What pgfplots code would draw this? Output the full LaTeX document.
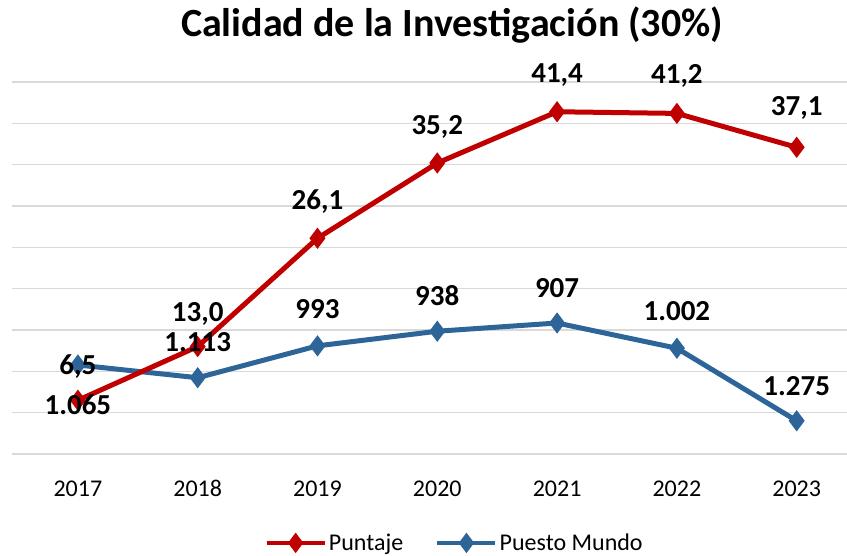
\documentclass[border=0pt]{standalone}
\usepackage{pgfplots}
\usepackage{pgfplotstable}
\usepackage{fontspec}
\setmainfont{Carlito}
\pgfplotsset{compat=1.18}
\definecolor{rojo}{HTML}{C00000}
\definecolor{azul}{HTML}{2E6599}
\definecolor{gridgray}{HTML}{D9D9D9}

\pgfplotstableread{
x y lbl off
0 6.5 {6,5} 34
1 13.0 {13,0} 33
2 26.1 {26,1} 37
3 35.2 {35,2} 36
4 41.4 {41,4} 37
5 41.2 {41,2} 37
6 37.1 {37,1} 39
}\puntaje

\pgfplotstableread{
x y lbl off
0 1065 {1.065} -40
1 1113 {1.113} 36
2 993 {993} 37
3 938 {938} 36
4 907 {907} 35
5 1002 {1.002} 37
6 1275 {1.275} 35
}\puesto

\begin{document}
\begin{tikzpicture}
\useasboundingbox (0,0) rectangle (847pt,556pt);
\pgfplotsset{
  common/.style={
    at={(12pt,102pt)}, anchor=south west,
    scale only axis, width=835pt, height=372pt,
    xmin=-0.55, xmax=6.42,
    axis line style={draw=none},
    tick style={draw=none},
    major tick length=0pt,
    clip=false,
  },
  prim/.style={common, ymin=0, ymax=45},
  sec/.style={common, ymin=0, ymax=1400, y dir=reverse},
  bare/.style={xtick=\empty, ytick=\empty},
  lbls/.style={
    nodes near coords,
    point meta=explicit symbolic,
    visualization depends on={\thisrow{off} \as \lblshift},
    nodes near coords style={anchor=center, yshift=\lblshift pt,
      font=\fontsize{29}{32}\selectfont\bfseries, text=black},
  },
  redline/.style={rojo, line width=5pt, mark=diamond*, mark size=6.5pt, mark options={solid}},
  blueline/.style={azul, line width=5pt, mark=diamond*, mark size=6.5pt, mark options={solid}},
}
% background: grid, ticks, title, legend
\begin{axis}[prim,
  ytick={0,5,...,45}, yticklabels={},
  ymajorgrids, grid style={draw=gridgray, line width=1.5pt},
  xtick={0,...,6}, xticklabels={2017,2018,2019,2020,2021,2022,2023},
  xticklabel style={anchor=base, yshift=-43pt, font=\fontsize{24}{28}\selectfont},
  title={\fontsize{40}{44}\selectfont\bfseries Calidad de la Investigación (30\%)},
  every axis title shift=0pt,
  title style={at={(0.527,1.121)}, anchor=base},
  legend columns=2,
  legend style={draw=none, fill=none, at={(0.53,-0.239)}, anchor=center,
    font=\fontsize{24}{28}\selectfont,
    /tikz/every even column/.append style={column sep=30pt}},
  legend image code/.code={\draw[line width=4.5pt, mark repeat=2,mark phase=2] plot coordinates {(0pt,0pt)(29pt,0pt)(58pt,0pt)};},
]
\addlegendimage{redline}
\addlegendentry{Puntaje}
\addlegendimage{blueline}
\addlegendentry{Puesto Mundo}
\end{axis}
% blue line
\begin{axis}[sec, bare]
\addplot[blueline] table[x=x, y=y] {\puesto};
\end{axis}
% red line with labels
\begin{axis}[prim, bare]
\addplot[redline, lbls] table[x=x, y=y, meta=lbl] {\puntaje};
\end{axis}
% blue labels on top
\begin{axis}[sec, bare]
\addplot[draw=none, mark=none, lbls] table[x=x, y=y, meta=lbl] {\puesto};
\end{axis}
\end{tikzpicture}
\end{document}
